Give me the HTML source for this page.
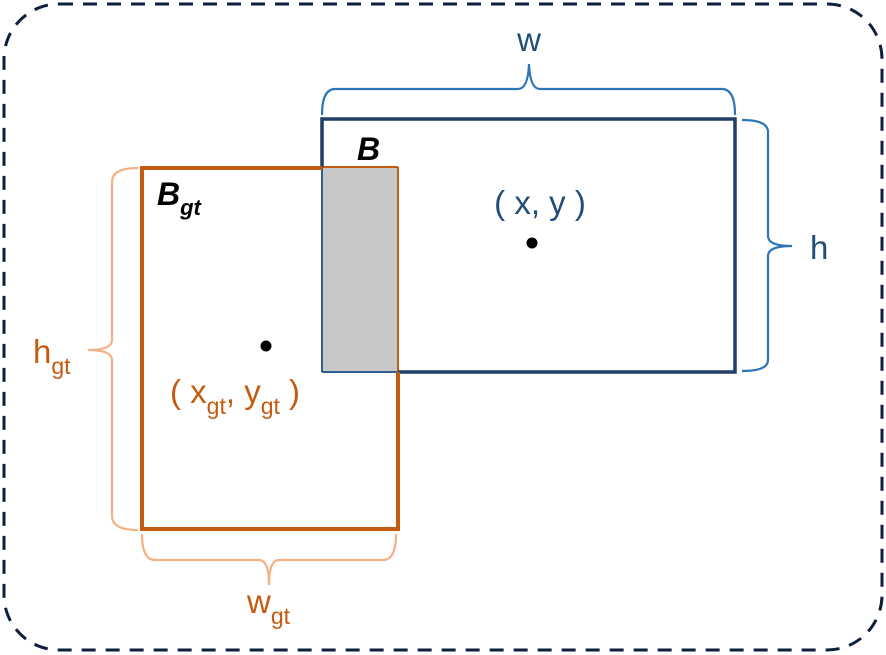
<!DOCTYPE html>
<html><head><style>body{margin:0;background:#fff}svg{display:block}</style></head><body>
<svg width="886" height="655" viewBox="0 0 886 655" xmlns="http://www.w3.org/2000/svg" font-family="Liberation Sans, sans-serif">
<rect x="4" y="4" width="878" height="646" rx="55" fill="none" stroke="#0f1f3f" stroke-width="3" stroke-dasharray="14,10"/>
<rect x="322" y="167" width="76" height="205" fill="#c8c8c8"/>
<!-- thin overlap borders -->
<line x1="322" y1="167" x2="322" y2="372" stroke="#2e5f90" stroke-width="2"/>
<line x1="322" y1="372" x2="398" y2="372" stroke="#2e5f90" stroke-width="2"/>
<line x1="322" y1="167" x2="398" y2="167" stroke="#c55a11" stroke-width="2"/>
<line x1="398" y1="167" x2="398" y2="372" stroke="#c55a11" stroke-width="2"/>
<!-- thick blue B -->
<path d="M322,167 L322,119 L735,119 L735,372 L398,372" fill="none" stroke="#1f3f66" stroke-width="3.5"/>
<!-- thick orange Bgt -->
<path d="M322,168 L142,168 L142,529 L398,529 L398,372" fill="none" stroke="#c55a11" stroke-width="4"/>
<!-- top brace -->
<path d="M322,115 Q322,89 335,89 L518,89 Q528,89 529,64 Q530,89 540,89 L722,89 Q735,89 735,115" fill="none" stroke="#2e75b6" stroke-width="2.2"/>
<!-- right brace -->
<path d="M742,120 Q768,120 768,132 L768,236 Q768,246 792,246 Q768,246 768,256 L768,360 Q768,371 742,371" fill="none" stroke="#2e75b6" stroke-width="2.2"/>
<!-- left brace -->
<path d="M138,168 Q112,168 112,182 L112,340 Q112,350 88,350 Q112,350 112,360 L112,516 Q112,530 138,530" fill="none" stroke="#f4b183" stroke-width="2.2"/>
<!-- bottom brace -->
<path d="M142,534 Q142,560 155,560 L259,560 Q269,560 269,585 Q269,560 279,560 L383,560 Q396,560 396,534" fill="none" stroke="#f4b183" stroke-width="2.2"/>
<circle cx="532" cy="243" r="5.5" fill="#000"/>
<circle cx="266" cy="346" r="5.5" fill="#000"/>
<text x="529" y="51" font-size="33" fill="#1f4e79" text-anchor="middle">w</text>
<text x="810" y="259" font-size="33" fill="#1f4e79">h</text>
<text x="540" y="214" font-size="33" fill="#1f4e79" text-anchor="middle">( x, y )</text>
<text x="357" y="160" font-size="32" font-weight="bold" font-style="italic" fill="#000">B</text>
<text x="157" y="205" font-size="32" font-weight="bold" font-style="italic" fill="#000">B<tspan font-size="22" dy="10">gt</tspan></text>
<text x="33" y="363" font-size="33" fill="#c55a11">h<tspan font-size="23" dy="11">gt</tspan></text>
<text x="247" y="613" font-size="33" fill="#c55a11">w<tspan font-size="23" dy="11">gt</tspan></text>
<text x="170" y="403" font-size="33" fill="#c55a11">( x<tspan font-size="23" dy="11">gt</tspan><tspan dy="-11">, y</tspan><tspan font-size="23" dy="11">gt</tspan><tspan dy="-11"> )</tspan></text>
</svg>
</body></html>
